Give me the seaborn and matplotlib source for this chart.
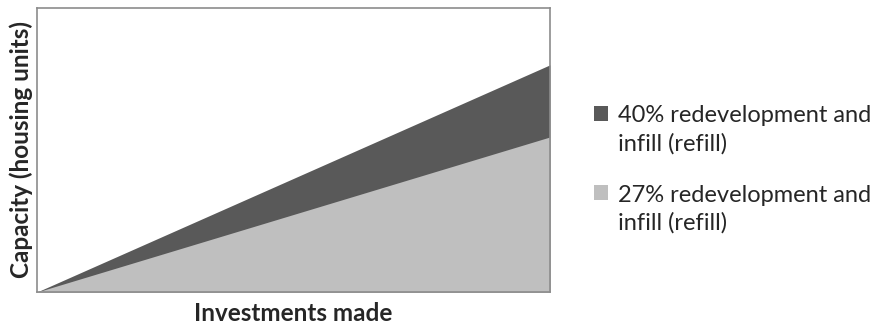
import matplotlib
matplotlib.use("Agg")
import matplotlib.pyplot as plt
import seaborn as sns
import pandas as pd
from matplotlib.patches import Patch, Rectangle
from matplotlib.legend_handler import HandlerPatch

sns.set_style("white")
plt.rcParams['font.family'] = ['Lato', 'DejaVu Sans']

investments = [0, 1]
refill_40 = [0, 40]
refill_27 = [0, 27.3]
series_labels = ["40% redevelopment and\ninfill (refill)", "27% redevelopment and\ninfill (refill)"]
colors = ["#595959", "#bfbfbf"]

df = pd.DataFrame({"x": investments + investments,
                   "y": refill_40 + refill_27,
                   "series": [series_labels[0]] * 2 + [series_labels[1]] * 2})

fig = plt.figure(figsize=(8.83, 3.29), dpi=100)
ax = fig.add_axes([37/883, 1 - 292/329, (550 - 37)/883, (292 - 8)/329])

sns.lineplot(data=df, x="x", y="y", hue="series", palette=colors, ax=ax,
             legend=False, linewidth=0)
ax.fill_between(investments, 0, refill_40, color=colors[0], linewidth=0)
ax.fill_between(investments, 0, refill_27, color=colors[1], linewidth=0)

ax.set_xlim(0, 1)
ax.set_ylim(0, 50)
ax.set_xticks([])
ax.set_yticks([])
for s in ax.spines.values():
    s.set_color("#8c8c8c")
    s.set_linewidth(1.2)

ax.set_xlabel("Investments made", fontsize=17.5, fontweight="bold", labelpad=7)
ax.set_ylabel("Capacity (housing units)", fontsize=17.5, fontweight="bold", labelpad=3)


def top_square(legend, orig_handle, xdescent, ydescent, width, height, fontsize):
    return Rectangle((-xdescent, -ydescent + 12), width, height)


handles = [Patch(facecolor=c, edgecolor="none") for c in colors]
leg = fig.legend(handles, series_labels, loc="center left", bbox_to_anchor=(573/883, 0.485),
                 frameon=False, fontsize=17, handlelength=0.6, handleheight=0.6,
                 handletextpad=0.4, labelspacing=1.28,
                 handler_map={Patch: HandlerPatch(patch_func=top_square)})
for t in leg.get_texts():
    t.set_linespacing(1.4)

fig.savefig("out.png", dpi=100)
